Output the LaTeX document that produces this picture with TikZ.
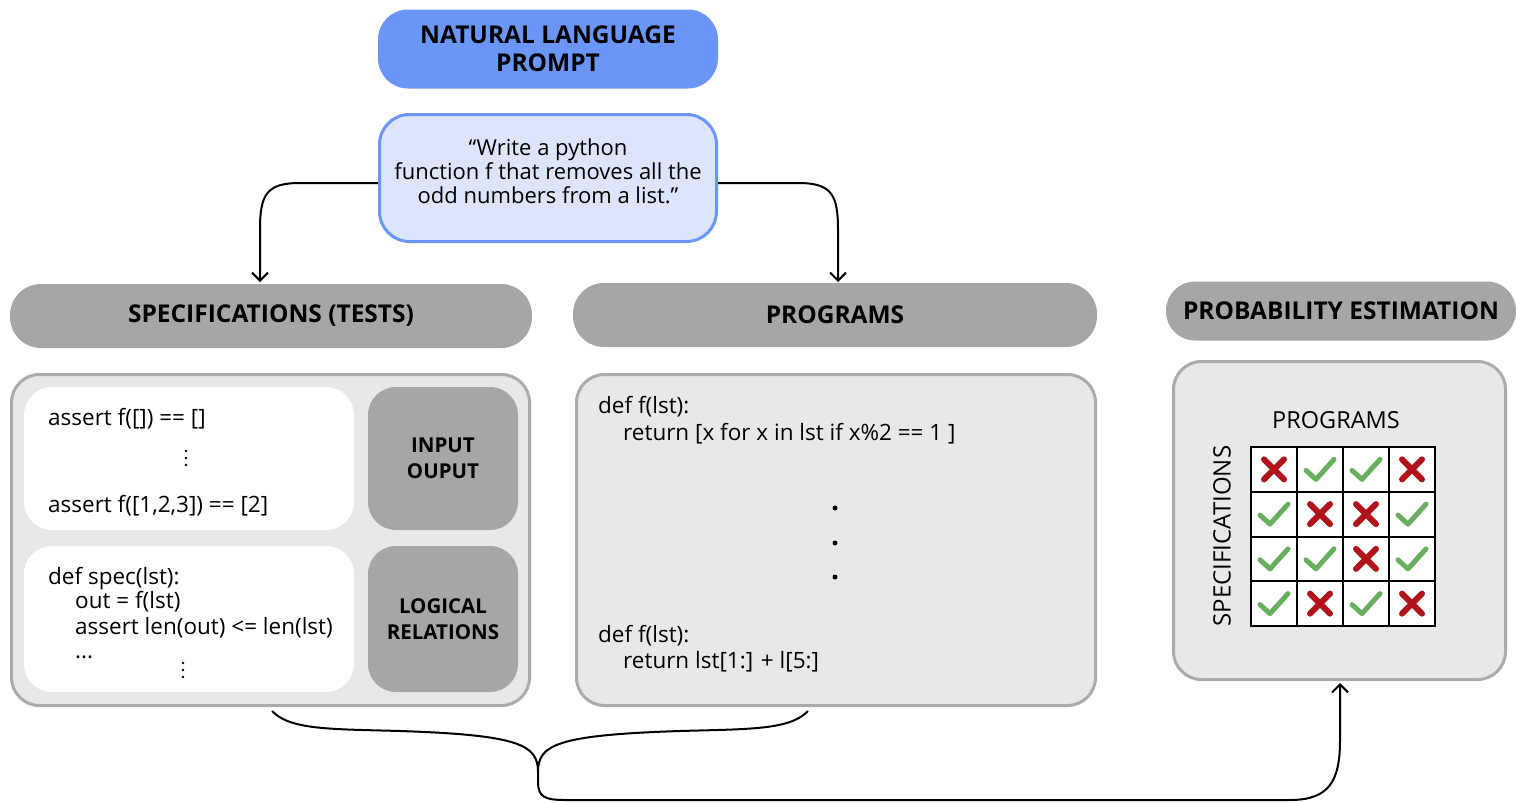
\documentclass[tikz,border=0pt]{standalone}
\usepackage{fontspec}
\setmainfont{Open Sans}
\usetikzlibrary{arrows.meta,calc}
\definecolor{hdrblue}{HTML}{6B96F8}
\definecolor{promptfill}{HTML}{DCE5FB}
\definecolor{hdrgray}{HTML}{A6A6A6}
\definecolor{panelfill}{HTML}{E8E8E8}
\definecolor{panelborder}{HTML}{ABABAB}
\definecolor{okgreen}{HTML}{6AAF5F}
\definecolor{badred}{HTML}{B0141A}
\begin{document}
\begin{tikzpicture}[x=1pt,y=-1pt,
  hdr/.style={draw=none, fill=hdrgray, rounded corners=31pt, inner sep=0pt, font=\bfseries\fontsize{24.5}{28}\selectfont},
  panel/.style={fill=panelfill, draw=panelborder, line width=3pt, rounded corners=28pt, inner sep=0pt},
  whitebox/.style={fill=white, draw=none, rounded corners=28pt, inner sep=0pt},
  graybox/.style={fill=hdrgray, draw=none, rounded corners=28pt, inner sep=0pt, align=center, font=\bfseries\fontsize{20.5}{26}\selectfont},
  code/.style={anchor=base west, inner sep=0pt, font=\fontsize{22.5}{24}\selectfont},
  conn/.style={line width=2pt, draw=black},
  tick/.style={line width=5pt, draw=okgreen, line cap=round, line join=round},
  cross/.style={line width=6pt, draw=badred, line cap=round},
  cell/.style={draw=black, line width=2pt, fill=white, minimum width=46pt, minimum height=44.75pt, inner sep=0pt}
]
\useasboundingbox (0,0) rectangle (1516,803);

% prompt
\node[fill=hdrblue, draw=none, rounded corners=30pt, minimum width=340pt, minimum height=79pt, inner sep=0pt, align=center, font=\bfseries\fontsize{24.5}{28}\selectfont] (nlp) at (548,49) {NATURAL LANGUAGE\\PROMPT};
\node[fill=promptfill, draw=hdrblue, line width=3pt, rounded corners=30pt, minimum width=337pt, minimum height=127pt, inner sep=0pt] (prompt) at (548,178) {};
\node[inner sep=0pt, align=center, font=\fontsize{22}{24}\selectfont] (prompttext) at (548,171) {``Write a python\\function f that removes all the\\odd numbers from a list.''};

% headers
\node[hdr, minimum width=522pt, minimum height=64pt] (spech) at (271,316) {SPECIFICATIONS (TESTS)};
\node[hdr, minimum width=524pt, minimum height=64pt] (progh) at (835,315) {PROGRAMS};
\node[hdr, minimum width=350pt, minimum height=59pt, rounded corners=29pt] (probh) at (1341,311) {PROBABILITY ESTIMATION};

% panels
\node[panel, minimum width=518pt, minimum height=331pt] (specp) at (270.5,540) {};
\node[panel, minimum width=519pt, minimum height=331pt] (progp) at (836,540) {};
\node[panel, minimum width=332pt, minimum height=318pt] (probp) at (1339.5,520.5) {};

% spec inner boxes
\node[whitebox, minimum width=330pt, minimum height=143pt] (iobox) at (189,458.5) {};
\node[whitebox, minimum width=330pt, minimum height=146pt] (lrbox) at (189,619) {};
\node[graybox, minimum width=150pt, minimum height=143pt] (iolab) at (443,458.5) {INPUT\\OUPUT};
\node[graybox, minimum width=150pt, minimum height=146pt] (lrlab) at (443,619) {LOGICAL\\RELATIONS};

\node[code] (io1) at (48,425) {assert f([]) == []};
\fill (186,451) circle (1.3pt) (186,458) circle (1.3pt) (186,465) circle (1.3pt);
\node[code] (io2) at (48,512) {assert f([1,2,3]) == [2]};
\node[code] (lr1) at (48,584) {def spec(lst):};
\node[code] (lr2) at (75,608) {out = f(lst)};
\node[code] (lr3) at (75,634) {assert len(out) <= len(lst)};
\node[code] (lr4) at (75,658) {...};
\fill (183,663) circle (1.3pt) (183,670) circle (1.3pt) (183,677) circle (1.3pt);

% programs
\node[code] (p1) at (598,413) {def f(lst):};
\node[code] (p2) at (623,440) {return [x for x in lst if x\%2 == 1 ]};
\node[code] (p3) at (598,642) {def f(lst):};
\node[code] (p4) at (623,668) {return lst[1:] + l[5:]};
\fill (835,508) circle (2.5pt) (835,543) circle (2.5pt) (835,577) circle (2.5pt);

% probability matrix
\node[inner sep=0pt, font=\fontsize{23.5}{24}\selectfont] (mprog) at (1336,420) {PROGRAMS};
\node[inner sep=0pt, rotate=90, font=\fontsize{24}{24}\selectfont] (mspec) at (1222,536) {SPECIFICATIONS};
\foreach \r/\row in {1/{0,1,1,0},2/{1,0,0,1},3/{1,1,0,1},4/{1,0,1,0}}{
  \foreach \v [count=\c] in \row {
    \pgfmathsetmacro{\cx}{1251+46*(\c-0.5)}
    \pgfmathsetmacro{\cy}{447+44.75*(\r-0.5)}
    \node[cell] (c\r\c) at (\cx,\cy) {};
    \ifnum\v=1
      \draw[tick] ($(c\r\c.center)+(-14,1)$) -- ($(c\r\c.center)+(-4,10)$) -- ($(c\r\c.center)+(14,-10)$);
    \else
      \draw[cross] ($(c\r\c.center)+(-10,-10)$) -- ($(c\r\c.center)+(10,10)$);
      \draw[cross] ($(c\r\c.center)+(10,-10)$) -- ($(c\r\c.center)+(-10,10)$);
    \fi
  }
}

% connectors
\coordinate (a1) at (260,282);
\coordinate (a2) at (838,282);
\draw[conn, -{Straight Barb[length=8pt,width=16pt]}] ([yshift=-5pt]prompt.west) -- (300,183) .. controls (266,183) and (260,195) .. (260,230) -- (a1);
\draw[conn, -{Straight Barb[length=8pt,width=16pt]}] ([yshift=-5pt]prompt.east) -- (798,183) .. controls (832,183) and (838,195) .. (838,230) -- (a2);

\coordinate (b1) at (272,711);
\coordinate (b2) at (808,711);
\coordinate (m) at (538,772);
\coordinate (b3) at (1340,683);
\draw[conn] (b1) .. controls (290,730) and (330,729) .. (400,731) .. controls (520,735) and (538,745) .. (m);
\draw[conn] (b2) .. controls (790,730) and (750,729) .. (680,731) .. controls (556,735) and (538,745) .. (m);
\draw[conn, -{Straight Barb[length=8pt,width=16pt]}] (m) -- (538,782) .. controls (538,797) and (545,800) .. (565,800) -- (1290,800) .. controls (1330,800) and (1340,780) .. (1340,740) -- (b3);
\end{tikzpicture}
\end{document}
